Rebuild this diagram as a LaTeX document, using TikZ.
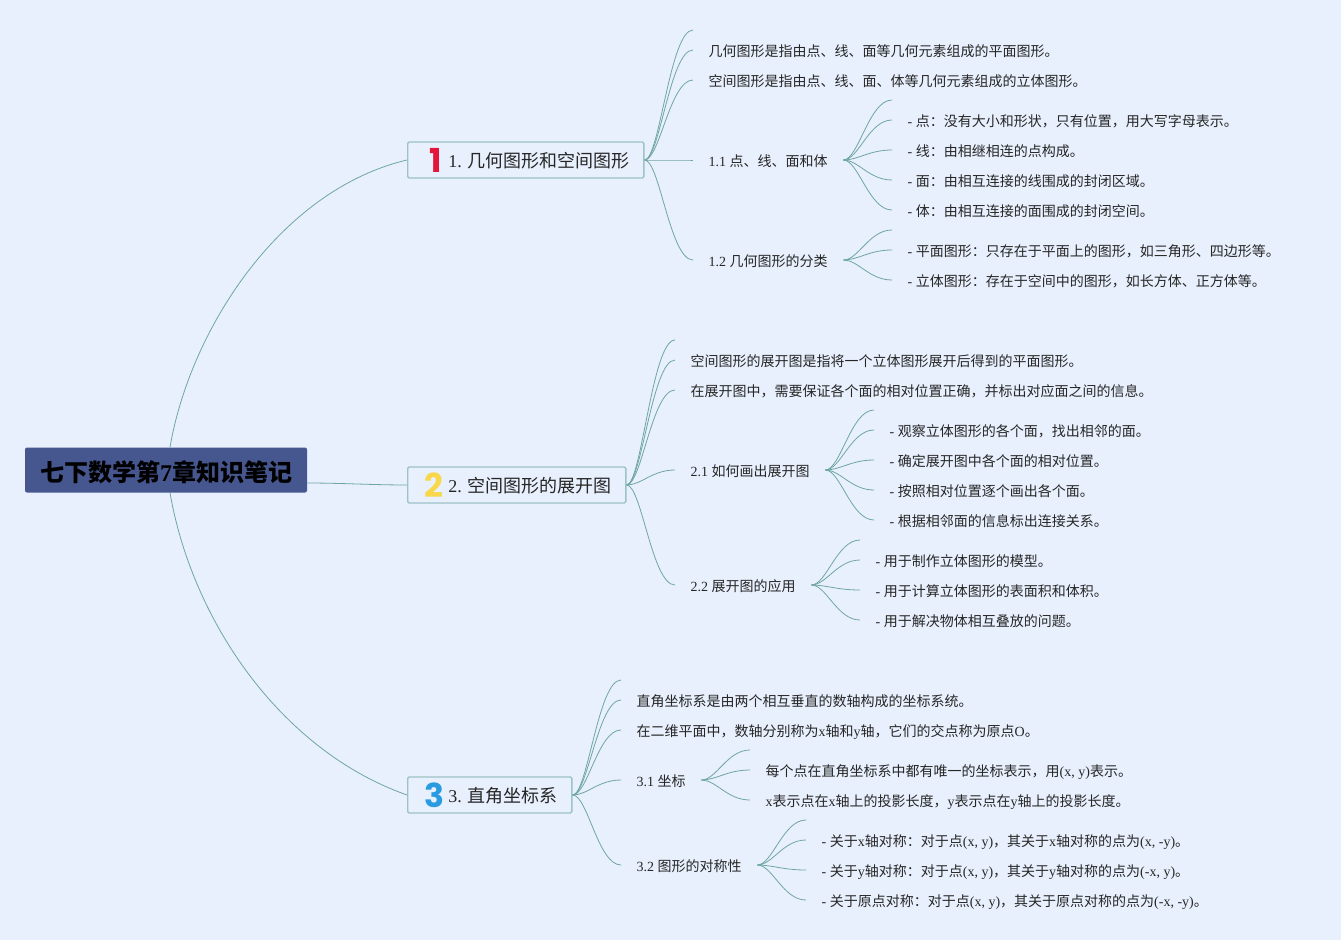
\documentclass[tikz,border=0pt]{standalone}
\usepackage{fontspec}
\setmainfont{Noto Sans CJK SC}
\newfontfamily\lat{Liberation Serif}
\newfontfamily\iconfont{Poppins}
\newcommand{\la}[1]{{\lat #1}}
\definecolor{pagecol}{HTML}{E8F0FD}
\definecolor{linecol}{HTML}{6FA6A3}
\definecolor{boxcol}{HTML}{9CC3C5}
\definecolor{titlecol}{HTML}{46568F}
\definecolor{icona}{HTML}{E2153A}
\definecolor{iconb}{HTML}{F8D84A}
\definecolor{iconc}{HTML}{2A9BE0}
\tikzset{
  title/.style={fill=titlecol, rounded corners=2pt, minimum width=282pt, minimum height=45pt, text height=24pt, text depth=2pt, font=\fontsize{24}{28}\selectfont\bfseries, text=black},
  topic/.style={draw=boxcol, fill=pagecol, line width=1.4pt, rounded corners=1.5pt, anchor=west, minimum height=36pt, inner xsep=14pt, inner ysep=0pt, text height=17pt, text depth=1.4pt, font=\fontsize{18}{22}\selectfont, text=black!85},
  icon/.style={font=\iconfont\fontsize{33}{36}\selectfont\bfseries, inner sep=0pt},
  leaf/.style={anchor=west, inner xsep=15.5pt, inner ysep=0pt, text height=15.1pt, text depth=1.4pt, font=\fontsize{14}{18}\selectfont, text=black!85},
  branch/.style={draw=linecol, line width=0.8pt}
}
\begin{document}
\begin{tikzpicture}[x=1pt, y=-1pt]
  \def\branches#1#2{\foreach \e in {#2} \draw[branch] (#1.east) .. controls +(15,0) and +(-23,0) .. (\e);}

  \fill[pagecol] (0,0) rectangle (1341,940);
  \useasboundingbox (0,0) rectangle (1341,940);

  % Root
  \node[title] (root) at (166,470) {七下数学第\la{7}章知识笔记};

  % Topics
  \node[topic] (t1) at (407,160) {\hspace{26.7pt}\la{1. }几何图形和空间图形};
  \node[topic] (t2) at (407,485) {\hspace{26.7pt}\la{2. }空间图形的展开图};
  \node[topic] (t3) at (407,795) {\hspace{26.7pt}\la{3. }直角坐标系};
  \node[icon, text=icona] (n1) at ([xshift=29pt]t1.west) {1};
  \node[icon, text=iconb] (n2) at ([xshift=27pt]t2.west) {2};
  \node[icon, text=iconc] (n3) at ([xshift=27pt]t3.west) {3};

  % Topic 1
  \coordinate (e1) at (693,30);
  \node[leaf] (a1) at (693,50) {几何图形是指由点、线、面等几何元素组成的平面图形。};
  \node[leaf] (a2) at (693,80) {空间图形是指由点、线、面、体等几何元素组成的立体图形。};
  \node[leaf] (s11) at (693,160) {\la{1.1 }点、线、面和体};
  \node[leaf] (s12) at (693,260) {\la{1.2 }几何图形的分类};
  \coordinate (e11) at (892,100);
  \node[leaf] (p1) at (892,120) {\la{- }点：没有大小和形状，只有位置，用大写字母表示。};
  \node[leaf] (p2) at (892,150) {\la{- }线：由相继相连的点构成。};
  \node[leaf] (p3) at (892,180) {\la{- }面：由相互连接的线围成的封闭区域。};
  \node[leaf] (p4) at (892,210) {\la{- }体：由相互连接的面围成的封闭空间。};
  \coordinate (e12) at (892,230);
  \node[leaf] (q1) at (892,250) {\la{- }平面图形：只存在于平面上的图形，如三角形、四边形等。};
  \node[leaf] (q2) at (892,280) {\la{- }立体图形：存在于空间中的图形，如长方体、正方体等。};

  % Topic 2
  \coordinate (e2) at (675,340);
  \node[leaf] (b1) at (675,360) {空间图形的展开图是指将一个立体图形展开后得到的平面图形。};
  \node[leaf] (b2) at (675,390) {在展开图中，需要保证各个面的相对位置正确，并标出对应面之间的信息。};
  \node[leaf] (s21) at (675,470) {\la{2.1 }如何画出展开图};
  \node[leaf] (s22) at (675,585) {\la{2.2 }展开图的应用};
  \coordinate (e21) at (874,410);
  \node[leaf] (u1) at (874,430) {\la{- }观察立体图形的各个面，找出相邻的面。};
  \node[leaf] (u2) at (874,460) {\la{- }确定展开图中各个面的相对位置。};
  \node[leaf] (u3) at (874,490) {\la{- }按照相对位置逐个画出各个面。};
  \node[leaf] (u4) at (874,520) {\la{- }根据相邻面的信息标出连接关系。};
  \coordinate (e22) at (860,540);
  \node[leaf] (v1) at (860,560) {\la{- }用于制作立体图形的模型。};
  \node[leaf] (v2) at (860,590) {\la{- }用于计算立体图形的表面积和体积。};
  \node[leaf] (v3) at (860,620) {\la{- }用于解决物体相互叠放的问题。};

  % Topic 3
  \coordinate (e3) at (621,680);
  \node[leaf] (c1) at (621,700) {直角坐标系是由两个相互垂直的数轴构成的坐标系统。};
  \node[leaf] (c2) at (621,730) {在二维平面中，数轴分别称为\la{x}轴和\la{y}轴，它们的交点称为原点\la{O}。};
  \node[leaf] (s31) at (621,780) {\la{3.1 }坐标};
  \node[leaf] (s32) at (621,865) {\la{3.2 }图形的对称性};
  \coordinate (e31) at (750,750);
  \node[leaf] (w1) at (750,770) {每个点在直角坐标系中都有唯一的坐标表示，用\la{(x, y)}表示。};
  \node[leaf] (w2) at (750,800) {\la{x}表示点在\la{x}轴上的投影长度，\la{y}表示点在\la{y}轴上的投影长度。};
  \coordinate (e32) at (806,820);
  \node[leaf] (z1) at (806,840) {\la{- }关于\la{x}轴对称：对于点\la{(x, y)}，其关于\la{x}轴对称的点为\la{(x, -y)}。};
  \node[leaf] (z2) at (806,870) {\la{- }关于\la{y}轴对称：对于点\la{(x, y)}，其关于\la{y}轴对称的点为\la{(-x, y)}。};
  \node[leaf] (z3) at (806,900) {\la{- }关于原点对称：对于点\la{(x, y)}，其关于原点对称的点为\la{(-x, -y)}。};

  % Connectors
  \draw[branch] ([xshift=4pt]root.north) .. controls (190,330) and (280,190) .. (t1.west);
  \draw[branch] ([yshift=-13pt]root.east) .. controls (340,483) and (375,485) .. (t2.west);
  \draw[branch] ([xshift=4pt]root.south) .. controls (192,620) and (280,750) .. (t3.west);

  \branches{t1}{e1,a1.west,a2.west,s11.west,s12.west}
  \branches{s11}{e11,p1.west,p2.west,p3.west,p4.west}
  \branches{s12}{e12,q1.west,q2.west}
  \branches{t2}{e2,b1.west,b2.west,s21.west,s22.west}
  \branches{s21}{e21,u1.west,u2.west,u3.west,u4.west}
  \branches{s22}{e22,v1.west,v2.west,v3.west}
  \branches{t3}{e3,c1.west,c2.west,s31.west,s32.west}
  \branches{s31}{e31,w1.west,w2.west}
  \branches{s32}{e32,z1.west,z2.west,z3.west}
\end{tikzpicture}
\end{document}
